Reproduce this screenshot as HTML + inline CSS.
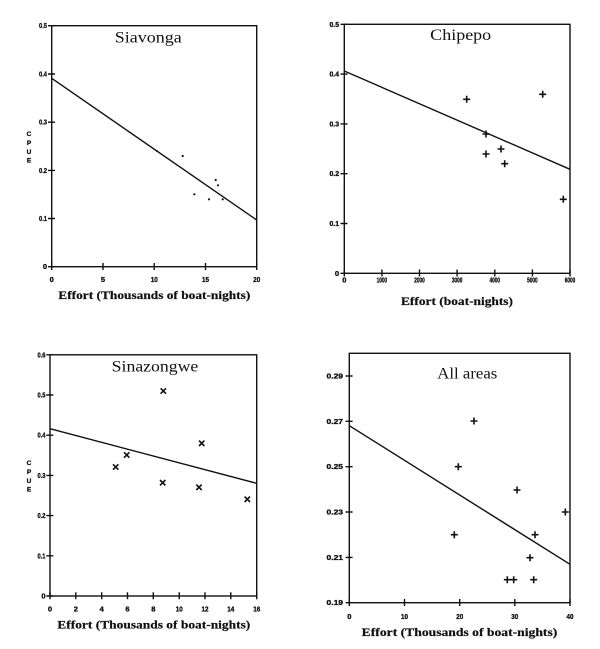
<!DOCTYPE html>
<html><head><meta charset="utf-8"><style>
html,body{margin:0;padding:0;background:#fff;}
svg{display:block;}
.ax{stroke:#111;stroke-width:1.4;fill:none;}
.ln{stroke:#111;stroke-width:1.4;fill:none;}
.mk{stroke:#111;stroke-width:1.6;fill:none;}
.tl{font-family:"Liberation Sans",sans-serif;font-weight:bold;font-size:7.5px;fill:#111;stroke:#111;stroke-width:0.35;}
.tt{font-family:"Liberation Serif",serif;font-size:16px;fill:#111;}
.xl{font-family:"Liberation Serif",serif;font-weight:bold;font-size:11.5px;fill:#111;stroke:#111;stroke-width:0.2;}
.cp{font-family:"Liberation Sans",sans-serif;font-weight:bold;font-size:6.5px;fill:#111;stroke:#111;stroke-width:0.3;}
</style></head><body>
<svg width="600" height="649" viewBox="0 0 600 649" xmlns="http://www.w3.org/2000/svg">
<rect width="600" height="649" fill="#fff"/>

<!-- Plot 1: Siavonga -->
<rect class="ax" x="51.7" y="25.7" width="205" height="241"/>
<g class="ax">
<path d="M48 25.7h7M48 74h7M48 122.2h7M48 170.4h7M48 218.5h7M48 266.7h7"/>
<path d="M51.7 263v7M103 263v7M154.2 263v7M205.5 263v7M256.7 263v7"/>
</g>
<g class="tl" text-anchor="end">
<text x="47" y="28" textLength="8" lengthAdjust="spacingAndGlyphs">0.5</text>
<text x="47" y="76.5" textLength="8" lengthAdjust="spacingAndGlyphs">0.4</text>
<text x="47" y="124.7" textLength="8" lengthAdjust="spacingAndGlyphs">0.3</text>
<text x="47" y="172.9" textLength="8" lengthAdjust="spacingAndGlyphs">0.2</text>
<text x="47" y="221" textLength="8" lengthAdjust="spacingAndGlyphs">0.1</text>
<text x="47" y="269.2">0</text>
</g>
<g class="tl" text-anchor="middle">
<text x="51.7" y="282">0</text>
<text x="103" y="282">5</text>
<text x="154.2" y="282" textLength="7" lengthAdjust="spacingAndGlyphs">10</text>
<text x="205.5" y="282" textLength="7" lengthAdjust="spacingAndGlyphs">15</text>
<text x="256.7" y="282" textLength="7" lengthAdjust="spacingAndGlyphs">20</text>
</g>
<line class="ln" x1="51.7" y1="78.3" x2="256.7" y2="220"/>
<g fill="#111">
<circle cx="182.7" cy="156" r="1.1"/>
<circle cx="194.3" cy="194.3" r="1.1"/>
<circle cx="209" cy="199.3" r="1.1"/>
<circle cx="215.7" cy="180" r="1.1"/>
<circle cx="218" cy="185.3" r="1.1"/>
<circle cx="222.7" cy="199.3" r="1.1"/>
<circle cx="157" cy="151" r="1"/>
</g>
<text class="tt" x="148.3" y="42.5" text-anchor="middle" textLength="67" lengthAdjust="spacingAndGlyphs">Siavonga</text>
<text class="xl" x="58.3" y="299" textLength="192" lengthAdjust="spacingAndGlyphs">Effort (Thousands of boat-nights)</text>
<g class="cp" text-anchor="middle">
<text x="29" y="136">C</text><text x="29" y="145">P</text><text x="29" y="154">U</text><text x="29" y="162.5">E</text>
</g>

<!-- Plot 2: Chipepo -->
<rect class="ax" x="344.3" y="24.3" width="225.7" height="249"/>
<g class="ax">
<path d="M340.5 24.3h7M340.5 74.1h7M340.5 123.9h7M340.5 173.7h7M340.5 223.5h7M340.5 273.3h7"/>
<path d="M344.3 269.5v7M381.9 269.5v7M419.5 269.5v7M457.1 269.5v7M494.8 269.5v7M532.4 269.5v7M570 269.5v7"/>
</g>
<g class="tl" text-anchor="end">
<text x="339" y="26.8" textLength="9.5" lengthAdjust="spacingAndGlyphs">0.5</text>
<text x="339" y="76.6" textLength="9.5" lengthAdjust="spacingAndGlyphs">0.4</text>
<text x="339" y="126.4" textLength="9.5" lengthAdjust="spacingAndGlyphs">0.3</text>
<text x="339" y="176.2" textLength="9.5" lengthAdjust="spacingAndGlyphs">0.2</text>
<text x="339" y="226" textLength="9.5" lengthAdjust="spacingAndGlyphs">0.1</text>
<text x="339" y="275.8">0</text>
</g>
<g class="tl" text-anchor="middle">
<text x="344.3" y="282.5">0</text>
<text x="381.9" y="282.5" textLength="10.5" lengthAdjust="spacingAndGlyphs">1000</text>
<text x="419.5" y="282.5" textLength="10.5" lengthAdjust="spacingAndGlyphs">2000</text>
<text x="457.1" y="282.5" textLength="10.5" lengthAdjust="spacingAndGlyphs">3000</text>
<text x="494.8" y="282.5" textLength="10.5" lengthAdjust="spacingAndGlyphs">4000</text>
<text x="532.4" y="282.5" textLength="10.5" lengthAdjust="spacingAndGlyphs">5000</text>
<text x="570" y="282.5" textLength="10.5" lengthAdjust="spacingAndGlyphs">6000</text>
</g>
<line class="ln" x1="344.3" y1="71" x2="570" y2="169.3"/>
<g class="mk">
<path d="M463.2 99.3h7M466.7 95.8v7"/>
<path d="M482.5 134h7M486 130.5v7"/>
<path d="M482.5 154h7M486 150.5v7"/>
<path d="M497.5 149h7M501 145.5v7"/>
<path d="M501.2 163.7h7M504.7 160.2v7"/>
<path d="M539.2 94.3h7M542.7 90.8v7"/>
<path d="M559.8 199.3h7M563.3 195.8v7"/>
</g>
<text class="tt" x="460.7" y="40" text-anchor="middle" textLength="61" lengthAdjust="spacingAndGlyphs">Chipepo</text>
<text class="xl" x="401" y="305" textLength="112" lengthAdjust="spacingAndGlyphs">Effort (boat-nights)</text>

<!-- Plot 3: Sinazongwe -->
<rect class="ax" x="50" y="354.8" width="206.7" height="241.2"/>
<g class="ax">
<path d="M46.3 354.8h7M46.3 395h7M46.3 435.2h7M46.3 475.4h7M46.3 515.6h7M46.3 555.8h7M46.3 596h7"/>
<path d="M50 592.3v7M75.8 592.3v7M101.7 592.3v7M127.5 592.3v7M153.3 592.3v7M179.2 592.3v7M205 592.3v7M230.8 592.3v7M256.7 592.3v7"/>
</g>
<g class="tl" text-anchor="end">
<text x="45.5" y="357.3" textLength="8" lengthAdjust="spacingAndGlyphs">0.6</text>
<text x="45.5" y="397.5" textLength="8" lengthAdjust="spacingAndGlyphs">0.5</text>
<text x="45.5" y="437.7" textLength="8" lengthAdjust="spacingAndGlyphs">0.4</text>
<text x="45.5" y="477.9" textLength="8" lengthAdjust="spacingAndGlyphs">0.3</text>
<text x="45.5" y="518.1" textLength="8" lengthAdjust="spacingAndGlyphs">0.2</text>
<text x="45.5" y="558.3" textLength="8" lengthAdjust="spacingAndGlyphs">0.1</text>
<text x="45.5" y="598.5">0</text>
</g>
<g class="tl" text-anchor="middle">
<text x="50" y="611.5">0</text>
<text x="75.8" y="611.5">2</text>
<text x="101.7" y="611.5">4</text>
<text x="127.5" y="611.5">6</text>
<text x="153.3" y="611.5">8</text>
<text x="179.2" y="611.5" textLength="7" lengthAdjust="spacingAndGlyphs">10</text>
<text x="205" y="611.5" textLength="7" lengthAdjust="spacingAndGlyphs">12</text>
<text x="230.8" y="611.5" textLength="7" lengthAdjust="spacingAndGlyphs">14</text>
<text x="256.7" y="611.5" textLength="7" lengthAdjust="spacingAndGlyphs">16</text>
</g>
<line class="ln" x1="50" y1="428.7" x2="256.7" y2="483.3"/>
<g class="mk">
<path d="M113 464.3l5.4 5.4M118.4 464.3l-5.4 5.4"/>
<path d="M124 452.3l5.4 5.4M129.4 452.3l-5.4 5.4"/>
<path d="M160.6 388.3l5.4 5.4M166 388.3l-5.4 5.4"/>
<path d="M160 480l5.4 5.4M165.4 480l-5.4 5.4"/>
<path d="M199 440.6l5.4 5.4M204.4 440.6l-5.4 5.4"/>
<path d="M196.3 484.6l5.4 5.4M201.7 484.6l-5.4 5.4"/>
<path d="M244.6 496.6l5.4 5.4M250 496.6l-5.4 5.4"/>
</g>
<text class="tt" x="155" y="371.5" text-anchor="middle" textLength="86.6" lengthAdjust="spacingAndGlyphs">Sinazongwe</text>
<text class="xl" x="57.3" y="628.5" textLength="193" lengthAdjust="spacingAndGlyphs">Effort (Thousands of boat-nights)</text>
<g class="cp" text-anchor="middle">
<text x="29" y="465">C</text><text x="29" y="474">P</text><text x="29" y="483">U</text><text x="29" y="491.5">E</text>
</g>

<!-- Plot 4: All areas -->
<rect class="ax" x="349.3" y="353.3" width="220.7" height="249.4"/>
<g class="ax">
<path d="M345.6 376h7M345.6 421.3h7M345.6 466.7h7M345.6 512h7M345.6 557.4h7M345.6 602.7h7"/>
<path d="M349.3 599v7M404.5 599v7M459.7 599v7M514.8 599v7M570 599v7"/>
</g>
<g class="tl" text-anchor="end">
<text x="343" y="378.5" textLength="16.5" lengthAdjust="spacingAndGlyphs">0.29</text>
<text x="343" y="423.8" textLength="16.5" lengthAdjust="spacingAndGlyphs">0.27</text>
<text x="343" y="469.2" textLength="16.5" lengthAdjust="spacingAndGlyphs">0.25</text>
<text x="343" y="514.5" textLength="16.5" lengthAdjust="spacingAndGlyphs">0.23</text>
<text x="343" y="559.9" textLength="16.5" lengthAdjust="spacingAndGlyphs">0.21</text>
<text x="343" y="605.2" textLength="16.5" lengthAdjust="spacingAndGlyphs">0.19</text>
</g>
<g class="tl" text-anchor="middle">
<text x="349.3" y="619">0</text>
<text x="404.5" y="619" textLength="7" lengthAdjust="spacingAndGlyphs">10</text>
<text x="459.7" y="619" textLength="7" lengthAdjust="spacingAndGlyphs">20</text>
<text x="514.8" y="619" textLength="7" lengthAdjust="spacingAndGlyphs">30</text>
<text x="570" y="619" textLength="7" lengthAdjust="spacingAndGlyphs">40</text>
</g>
<line class="ln" x1="349.3" y1="425.7" x2="570" y2="564.3"/>
<g class="mk">
<path d="M450.8 534.7h7M454.3 531.2v7"/>
<path d="M454.8 466.7h7M458.3 463.2v7"/>
<path d="M470.5 421h7M474 417.5v7"/>
<path d="M513.5 490h7M517 486.5v7"/>
<path d="M503.8 579.7h7M507.3 576.2v7"/>
<path d="M510.2 579.7h7M513.7 576.2v7"/>
<path d="M526.5 557.7h7M530 554.2v7"/>
<path d="M531.5 534.7h7M535 531.2v7"/>
<path d="M530.2 579.7h7M533.7 576.2v7"/>
<path d="M561.8 512h7M565.3 508.5v7"/>
</g>
<text class="tt" x="467.3" y="378.3" text-anchor="middle" textLength="60" lengthAdjust="spacingAndGlyphs">All areas</text>
<text class="xl" x="361.7" y="636" textLength="195.6" lengthAdjust="spacingAndGlyphs">Effort (Thousands of boat-nights)</text>
</svg>
</body></html>
